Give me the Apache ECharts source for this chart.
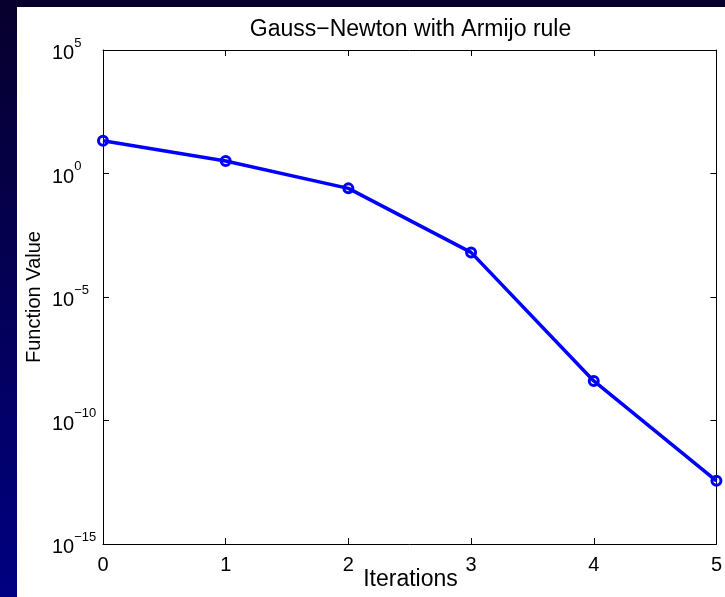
<!DOCTYPE html>
<html>
<head>
<meta charset="utf-8">
<script src="https://cdn.jsdelivr.net/npm/echarts@6/dist/echarts.min.js"></script>
<style>
  html, body { margin: 0; padding: 0; }
  #chart { width: 725px; height: 597px; }
</style>
</head>
<body>
<div id="chart"></div>
<script>
const titleText = 'Gauss\u2212Newton with Armijo rule';
const xName = 'Iterations';
const yName = 'Function Value';
const iterations = [0, 1, 2, 3, 4, 5];
const fvals = [21, 3.2, 0.25, 6.4e-4, 4e-9, 3.6e-13];
const xTicks = [0, 1, 2, 3, 4, 5];
const yTickExps = [-15, -10, -5, 0, 5];

const FONT = '"Liberation Sans", Arial, Helvetica, sans-serif';
const chart = echarts.init(document.getElementById('chart'));

function yFmt(v) {
  const e = Math.round(Math.log10(v));
  const s = e < 0 ? '\u2212' + (-e) : String(e);
  return '{b|10}{s|' + s + '}';
}

const gridL = 103, gridT = 50, gridW = 615, gridH = 494;

const axisCommon = {
  axisLine: { show: true, onZero: false, lineStyle: { color: '#000', width: 1 } },
  axisTick: { show: true, inside: true, length: 6, lineStyle: { color: '#000', width: 1 } },
  splitLine: { show: false },
  minorTick: { show: false }
};

chart.setOption({
  backgroundColor: new echarts.graphic.LinearGradient(0, 0, 0, 1, [
    { offset: 0, color: '#07002c' },
    { offset: 1, color: '#000082' }
  ]),
  animation: false,
  graphic: [
    { type: 'rect', z: -10, shape: { x: 17, y: 7, width: 725 - 17, height: 597 - 7 }, style: { fill: '#ffffff' } },
    { type: 'text', x: gridL + gridW / 2, y: 30, style: { text: titleText, font: '23px ' + FONT, fill: '#000', align: 'center', verticalAlign: 'middle' } },
    { type: 'text', x: gridL + gridW / 2, y: 580, style: { text: xName, font: '23px ' + FONT, fill: '#000', align: 'center', verticalAlign: 'middle' } },
    { type: 'text', x: 34, y: gridT + gridH / 2, rotation: Math.PI / 2, style: { text: yName, font: '20px ' + FONT, fill: '#000', align: 'center', verticalAlign: 'middle' } }
  ],
  grid: { left: gridL, top: gridT, width: gridW, height: gridH, containLabel: false },
  xAxis: [
    Object.assign({}, axisCommon, {
      type: 'value', position: 'bottom', min: 0, max: 5, interval: 1,
      axisLabel: { show: true, margin: 11, fontSize: 20, fontFamily: FONT, color: '#000',
        formatter: v => (xTicks.indexOf(v) >= 0 ? String(v) : '') }
    }),
    Object.assign({}, axisCommon, {
      type: 'value', position: 'top', min: 0, max: 5, interval: 1,
      axisLabel: { show: false }
    })
  ],
  yAxis: [
    Object.assign({}, axisCommon, {
      type: 'log', logBase: 10, position: 'left',
      min: Math.pow(10, yTickExps[0]), max: Math.pow(10, yTickExps[yTickExps.length - 1]), interval: 5,
      axisLabel: {
        show: true, align: 'left', margin: 51, formatter: yFmt,
        rich: {
          b: { fontSize: 20, fontFamily: FONT, color: '#000', lineHeight: 27, verticalAlign: 'bottom' },
          s: { fontSize: 13, fontFamily: FONT, color: '#000', lineHeight: 17, verticalAlign: 'top' }
        }
      }
    }),
    Object.assign({}, axisCommon, {
      type: 'log', logBase: 10, position: 'right',
      min: Math.pow(10, yTickExps[0]), max: Math.pow(10, yTickExps[yTickExps.length - 1]), interval: 5,
      axisLabel: { show: false }
    })
  ],
  series: [{
    type: 'line',
    xAxisIndex: 0, yAxisIndex: 0,
    data: iterations.map((x, i) => [x, fvals[i]]),
    clip: false,
    symbol: 'circle',
    symbolSize: 9,
    lineStyle: { color: '#0000ff', width: 3.5 },
    itemStyle: { color: 'rgba(255,255,255,0)', borderColor: '#0000ff', borderWidth: 3 }
  }]
});
</script>
</body>
</html>
